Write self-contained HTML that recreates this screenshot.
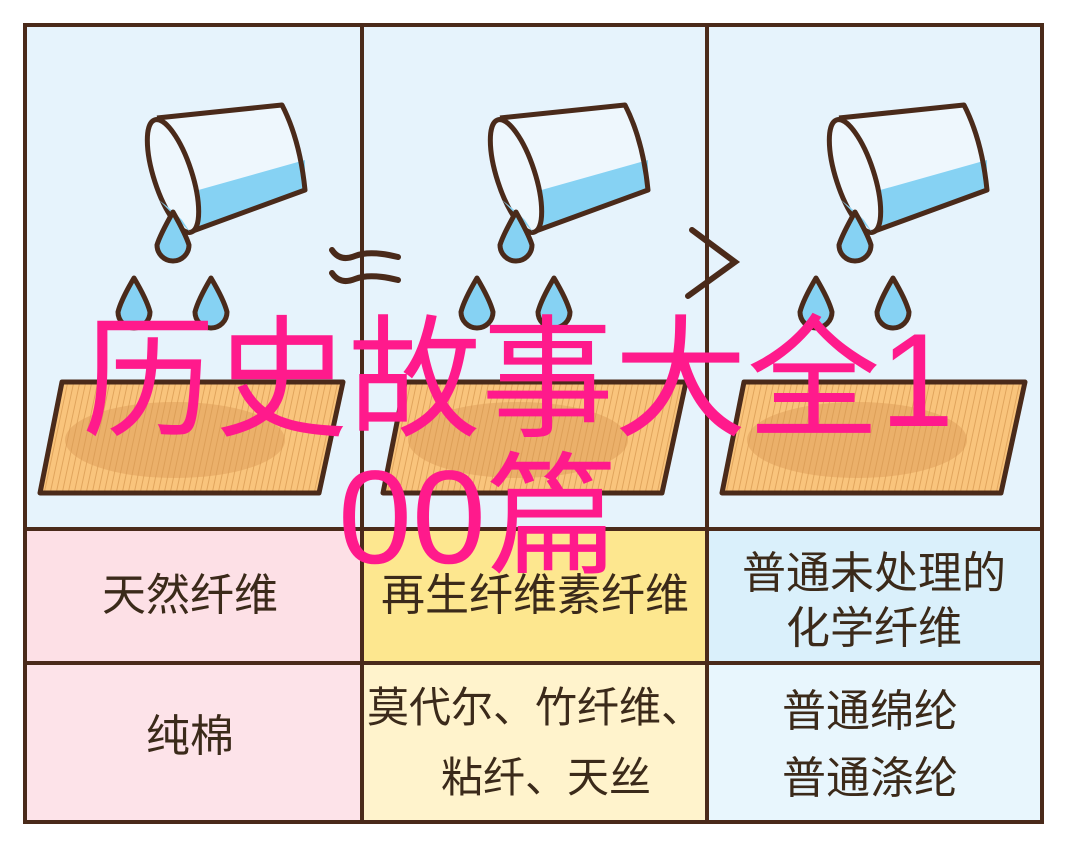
<!DOCTYPE html>
<html><head><meta charset="utf-8"><style>
html,body{margin:0;padding:0;background:#fff;}
body{width:1075px;height:857px;overflow:hidden;position:relative;}
svg{position:absolute;left:0;top:0;}
</style></head><body>
<svg width="1075" height="857" viewBox="0 0 1075 857" xmlns="http://www.w3.org/2000/svg">
<defs>
<pattern id="st" width="6" height="10" patternUnits="userSpaceOnUse" patternTransform="skewX(-12)">
<rect width="6" height="10" fill="#f9c47c"/><line x1="5" y1="0" x2="5" y2="10" stroke="#e0a45c" stroke-width="1"/>
</pattern>
<g id="panel">
<path d="M157,118 L282,105 Q300,140 305,190 L190,232 Z" fill="#eef7fd"/>
<path d="M170,198 L305,160 L305,192 L190,232 Z" fill="#86d2f3"/>
<path d="M157,118 L282,105 Q300,140 305,190 L190,232" fill="none" stroke="#4a2a1a" stroke-width="5" stroke-linejoin="round"/>
<ellipse cx="173" cy="176" rx="19" ry="59" transform="rotate(-18 173 176)" fill="#eef7fd" stroke="#4a2a1a" stroke-width="5"/>
<path d="M159,200 Q172,210 182,220 L190,232 Z" fill="#86d2f3"/>
<path d="M173,212 Q160,235 157,245 A16,16 0 1 0 189,245 Q186,235 173,212 Z" fill="#86d2f3" stroke="#4a2a1a" stroke-width="5" stroke-linejoin="round"/>
<path d="M134,278 Q121,300 118,312 A16,16 0 1 0 150,312 Q147,300 134,278 Z" fill="#86d2f3" stroke="#4a2a1a" stroke-width="5" stroke-linejoin="round"/>
<path d="M211,278 Q198,300 195,312 A16,16 0 1 0 227,312 Q224,300 211,278 Z" fill="#86d2f3" stroke="#4a2a1a" stroke-width="5" stroke-linejoin="round"/>
<path d="M62,382 L343,382 L319,493 L40,493 Z" fill="url(#st)" stroke="#4a2a1a" stroke-width="5" stroke-linejoin="round"/>
<ellipse cx="175" cy="440" rx="110" ry="38" fill="#d99a55" opacity="0.45"/>
</g>
</defs>
<rect x="25" y="25" width="1017" height="504" fill="#e6f3fc"/>
<rect x="25" y="529" width="337" height="134" fill="#fde0e6"/>
<rect x="362" y="529" width="345" height="134" fill="#fde78f"/>
<rect x="707" y="529" width="335" height="134" fill="#daf0fb"/>
<rect x="25" y="663" width="337" height="159" fill="#fde3e9"/>
<rect x="362" y="663" width="345" height="159" fill="#fff3cc"/>
<rect x="707" y="663" width="335" height="159" fill="#e8f6fd"/>
<use href="#panel"/>
<use href="#panel" transform="translate(343,0)"/>
<use href="#panel" transform="translate(682,0)"/>
<g stroke="#4a2a1a" stroke-width="4" fill="none">
<rect x="25" y="25" width="1017" height="797"/>
<line x1="362" y1="25" x2="362" y2="822"/>
<line x1="707" y1="25" x2="707" y2="822"/>
<line x1="25" y1="529" x2="1042" y2="529"/>
<line x1="25" y1="663" x2="1042" y2="663"/>
</g>
<g stroke="#4a2a1a" stroke-width="6" fill="none" stroke-linecap="round">
<path d="M332,250 Q340,262 355,256 Q370,250 398,257"/>
<path d="M332,273 Q340,285 355,279 Q370,273 398,280"/>
<path d="M692,230 L735,262 L688,296"/>
</g>
<g font-family="Liberation Sans, Noto Sans CJK SC, sans-serif" font-size="44" fill="#3b2a1a" text-anchor="middle">
<text x="190" y="610">天然纤维</text>
<text x="535" y="610">再生纤维素纤维</text>
<text x="874" y="588">普通未处理的</text>
<text x="874" y="643">化学纤维</text>
<text x="190" y="751">纯棉</text>
<text x="535" y="722" font-size="42">莫代尔、竹纤维、</text>
<text x="546" y="792" font-size="42">粘纤、天丝</text>
<text x="870" y="726">普通绵纶</text>
<text x="870" y="793">普通涤纶</text>
</g>
<g font-family="Liberation Sans, Noto Sans CJK SC, sans-serif" font-size="133" fill="#ff1a8c">
<text x="82" y="426">历史故事大全1</text>
<text x="338" y="563">00篇</text>
</g>
</svg>
</body></html>
